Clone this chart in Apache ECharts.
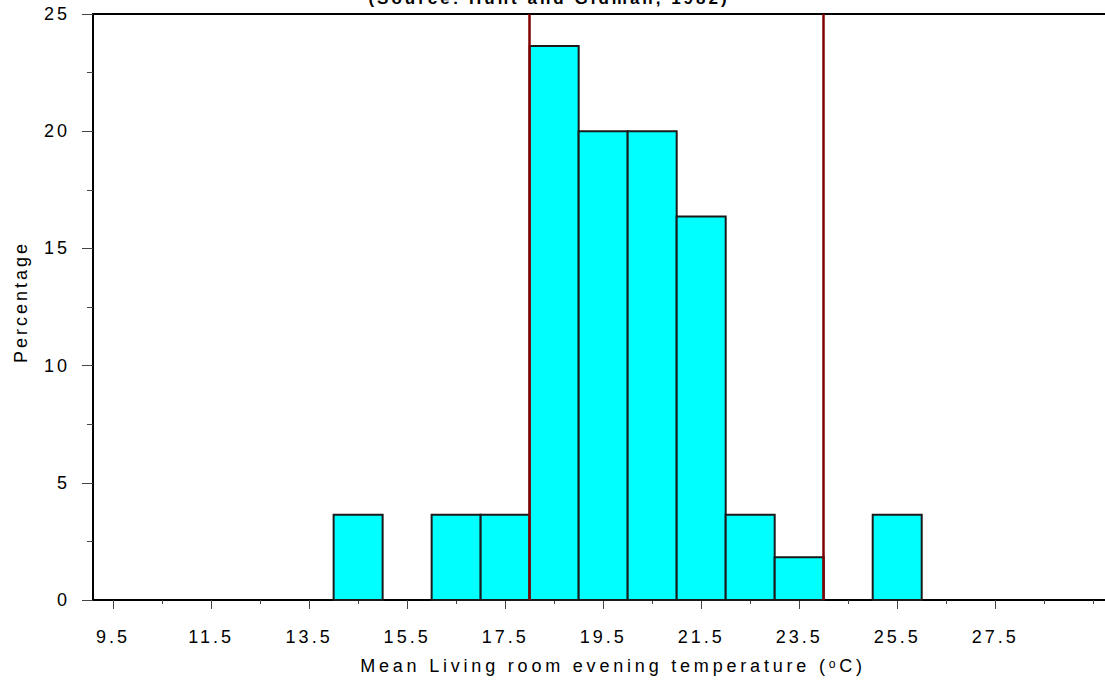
<!DOCTYPE html>
<html>
<head>
<meta charset="utf-8">
<script src="https://cdn.jsdelivr.net/npm/echarts@6/dist/echarts.min.js"></script>
<style>
  html, body { margin: 0; padding: 0; background: #fff; }
  #chart { width: 1105px; height: 684px; }
  #chart svg text { letter-spacing: 3px; }
  #chart svg text[style*="Helvetica"] { letter-spacing: 3.8px; }
</style>
</head>
<body>
<div id="chart"></div>
<script>
// Histogram bins: lower edges (°C), width 1
const binStarts = [9, 10, 11, 12, 13, 14, 15, 16, 17, 18, 19, 20, 21, 22, 23, 24, 25, 26, 27, 28, 29];
const percentages = [0, 0, 0, 0, 0, 3.64, 0, 3.64, 3.64, 23.64, 20, 20, 16.36, 3.64, 1.82, 0, 3.64, 0, 0, 0, 0];
const binWidth = 1;
// Reference (comfort range) lines
const refLines = [18, 24];
// Axis ticks / labels
const xLabelValues = [9.5, 11.5, 13.5, 15.5, 17.5, 19.5, 21.5, 23.5, 25.5, 27.5];
const xMinorTickValues = [9.5, 10.5, 11.5, 12.5, 13.5, 14.5, 15.5, 16.5, 17.5, 18.5, 19.5, 20.5, 21.5, 22.5, 23.5, 24.5, 25.5, 26.5, 27.5, 28.5, 29.5];
const yTicks = { min: 0, max: 25, interval: 5 };
const titleText = '(Source: Hunt and Gidman, 1982)';
const xName = 'Mean Living room evening temperature (\u1D52C)';
const yName = 'Percentage';

const xMin = 9.09, xMax = 29.74;
const font = 'Liberation Sans, Arial, sans-serif';
const nameFont = 'Liberation Sans, Arial, Helvetica';

const barData = binStarts.map((s, i) => [s, s + binWidth, percentages[i]]).filter(d => d[2] > 0);

const chart = echarts.init(document.getElementById('chart'), null, { renderer: 'svg' });
chart.setOption({
  animation: false,
  backgroundColor: '#fff',
  grid: { left: 93, right: 0, top: 14, bottom: 84, show: false },
  graphic: [{
    type: 'text', x: 549, y: 7,
    style: { text: titleText, x: 0, y: 0, align: 'center', verticalAlign: 'bottom',
      font: 'bold 17px ' + font, fill: '#000' }
  }],
  xAxis: [{
    type: 'value', min: xMin, max: xMax, position: 'bottom',
    axisLine: { show: true, lineStyle: { color: '#000', width: 2 } },
    axisTick: { show: true, customValues: xLabelValues, length: 9, lineStyle: { color: '#444', width: 1 } },
    axisLabel: { show: true, customValues: xLabelValues, margin: 28, color: '#000', fontSize: 18, fontFamily: font,
      formatter: v => v.toFixed(1) },
    splitLine: { show: false },
    name: xName,
    nameLocation: 'middle', nameGap: 57,
    nameTextStyle: { color: '#000', fontSize: 18, fontFamily: nameFont, padding: [0, 0, 0, 28] }
  }, {
    type: 'value', min: xMin, max: xMax, position: 'bottom',
    axisLine: { show: false },
    axisTick: { show: true, customValues: xMinorTickValues, length: 4, lineStyle: { color: '#444', width: 1 } },
    axisLabel: { show: false },
    splitLine: { show: false }
  }, {
    type: 'value', min: xMin, max: xMax, position: 'top',
    axisLine: { show: true, lineStyle: { color: '#000', width: 2 } },
    axisTick: { show: false },
    axisLabel: { show: false },
    splitLine: { show: false }
  }],
  yAxis: {
    type: 'value', min: yTicks.min, max: yTicks.max, interval: yTicks.interval,
    axisLine: { show: true, lineStyle: { color: '#000', width: 2 } },
    axisTick: { show: true, length: 11, lineStyle: { color: '#444', width: 1 } },
    minorTick: { show: true, splitNumber: 2, length: 6, lineStyle: { color: '#444', width: 1 } },
    axisLabel: { margin: 23, color: '#000', fontSize: 18, fontFamily: font },
    splitLine: { show: false },
    minorSplitLine: { show: false },
    name: yName, nameLocation: 'middle', nameGap: 63,
    nameTextStyle: { color: '#000', fontSize: 18, fontFamily: font, padding: [0, 0, 0, 10] }
  },
  series: [{
    type: 'custom',
    xAxisIndex: 0, yAxisIndex: 0,
    data: barData,
    renderItem: function (params, api) {
      const p0 = api.coord([api.value(0), api.value(2)]);
      const p1 = api.coord([api.value(1), 0]);
      return {
        type: 'rect',
        shape: { x: p0[0], y: p0[1], width: p1[0] - p0[0], height: p1[1] - p0[1] },
        style: { fill: '#00FFFF', stroke: '#1a1a1a', lineWidth: 2 }
      };
    },
    z: 2
  }, {
    type: 'line',
    xAxisIndex: 0, yAxisIndex: 0,
    data: [],
    markLine: {
      silent: true, symbol: 'none', label: { show: false },
      lineStyle: { color: '#800000', width: 2.5, type: 'solid' },
      data: refLines.map(v => ({ xAxis: v }))
    },
    z: 3
  }]
});
</script>
</body>
</html>
